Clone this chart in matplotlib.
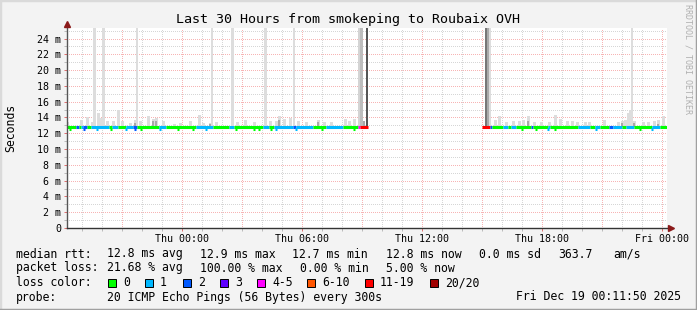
import matplotlib
matplotlib.use('Agg')
import matplotlib.pyplot as plt
from matplotlib.lines import Line2D
from matplotlib.patches import Rectangle

# x values are hours relative to Thu 00:00, y values in milliseconds
title = 'Last 30 Hours from smokeping to Roubaix OVH'
x_start, x_end = -5.75, 24.25
y_max = 25.33
x_tick_hours = [0, 6, 12, 18, 24]
x_tick_labels = ['Thu 00:00', 'Thu 06:00', 'Thu 12:00', 'Thu 18:00', 'Fri 00:00']
y_tick_ms = [0, 2, 4, 6, 8, 10, 12, 14, 16, 18, 20, 22, 24]

median_ms = 12.8
# (start hour, end hour, lost pings out of 20)
loss_segments = [
    (-5.75, -5.30, 0), (-5.30, -5.15, 2), (-5.15, -5.05, 0), (-5.05, -4.95, 1),
    (-4.95, -4.75, 2), (-4.75, -4.55, 0), (-4.55, -3.65, 1), (-3.65, -3.50, 0),
    (-3.50, -3.20, 1), (-3.20, -2.80, 0), (-2.80, -2.45, 1), (-2.45, -2.25, 2),
    (-2.25, -1.15, 0), (-1.15, -0.80, 1), (-0.80, 0.70, 0), (0.70, 1.55, 1),
    (1.55, 2.35, 0), (2.35, 2.60, 1), (2.60, 4.05, 0), (4.05, 4.35, 1),
    (4.35, 4.60, 0), (4.60, 5.55, 1), (5.55, 5.70, 2), (5.70, 6.55, 1),
    (6.55, 7.20, 0), (7.20, 8.05, 1), (8.05, 8.80, 0), (8.80, 8.90, 4),
    (8.90, 9.30, 11),
    (15.00, 15.40, 11), (15.40, 15.50, 2), (15.50, 16.05, 0), (16.05, 16.30, 1),
    (16.30, 16.45, 0), (16.45, 16.70, 1), (16.70, 17.45, 0), (17.45, 17.55, 2),
    (17.55, 18.30, 0), (18.30, 18.40, 1), (18.40, 19.80, 0), (19.80, 20.40, 1),
    (20.40, 20.65, 0), (20.65, 20.90, 1), (20.90, 21.35, 0), (21.35, 21.55, 2),
    (21.55, 22.00, 1), (22.00, 22.20, 0), (22.20, 22.60, 1), (22.60, 23.50, 0),
    (23.50, 23.90, 1), (23.90, 24.25, 0),
]
# samples where the median dropped a little
dip_hours = [-5.6, -4.9, -4.25, -3.55, -2.8, -2.35, -2.05, -1.1, -0.2, 0.55,
             1.2, 2.7, 3.6, 3.85, 4.45, 4.7, 5.7, 7.0, 8.6, 17.0, 17.7, 18.3,
             18.65, 20.7, 22.9, 23.5]
dip_ms = 12.6

# smoke: highest ping per sample (light) and inner band (darker)
smoke_hours = [-5.75, -5.05, -4.75, -4.5, -4.2, -4.05, -3.75, -3.45, -3.2, -3.0,
               -2.6, -2.35, -2.1, -1.7, -1.45, -1.3, -0.95, -0.4, -0.1, 0.4,
               0.85, 1.05, 1.4, 1.7, 2.75, 3.15, 3.6, 4.4, 4.7, 4.85,
               5.1, 5.4, 5.8, 6.2, 6.8, 7.1, 7.45, 8.15, 8.35, 8.6,
               15.65, 15.85, 16.2, 16.55, 16.85, 17.05, 17.3, 17.6, 17.95, 18.35,
               18.65, 18.9, 19.25, 19.5, 19.75, 20.15, 20.35, 21.1, 21.8, 22.0,
               22.15, 22.3, 22.4, 22.6, 23.05, 23.3, 23.6, 23.8, 24.05]
smoke_top = [13.4, 13.7, 14.0, 13.4, 14.6, 13.9, 13.5, 13.5, 14.9, 13.5,
             13.3, 13.7, 13.5, 14.2, 13.8, 13.9, 13.5, 13.2, 13.3, 13.5,
             14.3, 13.3, 13.3, 13.4, 13.4, 13.7, 13.4, 13.5, 13.6, 14.2,
             13.8, 13.9, 13.5, 13.4, 13.7, 13.4, 13.4, 13.8, 13.6, 13.8,
             13.7, 14.2, 13.4, 13.5, 13.5, 13.7, 14.2, 13.4, 13.4, 13.4,
             14.3, 13.8, 13.5, 13.6, 13.4, 13.4, 13.4, 13.7, 13.4, 13.6,
             13.7, 14.6, 14.9, 13.5, 13.4, 13.4, 13.5, 13.7, 14.2]
dark_hours = [-2.35, -1.45, -1.3, 1.4, 4.15, 4.85, 6.8, 9.1, 17.3, 22.0, 22.6, 23.8]
dark_top = [13.3, 13.5, 13.6, 13.2, 13.4, 13.7, 13.4, 13.5, 13.6, 13.3, 13.3, 13.2]

# samples whose slowest pings went off the chart
spike_hours = [-4.375, -3.925, -2.25, 1.5, 2.525, 4.175, 5.6, 8.85, 8.97, 9.24,
               15.19, 15.29, 15.39, 22.5]
spike_top = [40, 40, 40, 40, 40, 40, 40, 40, 40, 40, 40, 40, 40, 40]
spike_shade = ['#dddddd', '#dddddd', '#dddddd', '#dddddd', '#dddddd', '#dddddd',
               '#dddddd', '#d4d4d4', '#bdbdbd', '#555555', '#777777', '#aaaaaa',
               '#dddddd', '#dddddd']

loss_bins = [(0, '0', '#00ff00'), (1, '1', '#00b8ff'), (2, '2', '#0059ff'),
             (3, '3', '#5e00ff'), (5, '4-5', '#ff00ff'), (10, '6-10', '#ff5500'),
             (19, '11-19', '#ff0000'), (20, '20/20', '#a10000')]

stat_rows = [
    ('median rtt:', [('12.8 ms avg', 107), ('12.9 ms max', 200), ('12.7 ms min', 292),
                     ('12.8 ms now', 386), ('0.0 ms sd', 479), ('363.7', 558),
                     ('am/s', 613)]),
    ('packet loss:', [('21.68 % avg', 107), ('100.00 % max', 200), ('0.00 % min', 300),
                      ('5.00 % now', 386)]),
]
probe_text = '20 ICMP Echo Pings (56 Bytes) every 300s'
stamp_text = 'Fri Dec 19 00:11:50 2025'

W, H = 697, 310
MONO = 'DejaVu Sans Mono'
plt.rcParams['font.family'] = MONO


def fx(x):
    return x / W


def fy(y):
    return 1 - y / H


def loss_color(n):
    for top, _, c in loss_bins:
        if n <= top:
            return c
    return loss_bins[-1][2]


fig = plt.figure(figsize=(W / 100, H / 100), dpi=100, facecolor='#f3f3f3')
ax = fig.add_axes([fx(67), fy(228), 600 / W, 200 / H])
ax.set_facecolor('white')
ax.set_xlim(x_start, x_end)
ax.set_ylim(0, y_max)

# grid, dotted 1px on / 2px off like rrdtool
dots = (0, (1, 2))
for h in range(-5, 25):
    c = '#f7b4b4' if h % 3 == 0 else '#d6d6d6'
    ax.axvline(h, color=c, lw=0.72, ls=dots, zorder=1, antialiased=False)
for v in range(1, 26):
    c = '#f7b4b4' if v % 2 == 0 else '#d6d6d6'
    ax.axhline(v, color=c, lw=0.72, ls=dots, zorder=1, antialiased=False)

# smoke
base = median_ms
ax.bar(smoke_hours, [t - base for t in smoke_top], bottom=base, width=0.15,
       color='#dddddd', linewidth=0, zorder=2)
ax.bar(dark_hours, [t - base for t in dark_top], bottom=base, width=0.12,
       color='#a8a8a8', linewidth=0, zorder=3)
ax.bar(spike_hours, [t - base for t in spike_top], bottom=base, width=0.11,
       color=spike_shade, linewidth=0, zorder=3)

# median line coloured by loss
for s, e, n in loss_segments:
    ax.hlines(median_ms, s, e, colors=loss_color(n), lw=2.2, zorder=5,
              capstyle='butt')
for d in dip_hours:
    n = next(seg[2] for seg in loss_segments if seg[0] <= d < seg[1])
    ax.hlines(dip_ms, d - 0.05, d + 0.05, colors=loss_color(n), lw=2.2,
              zorder=5, capstyle='butt')

# axes
for sp in ax.spines.values():
    sp.set_visible(False)
ax.plot([0, 0], [0, 1.01], transform=ax.transAxes, color='#555555', lw=1,
        clip_on=False, zorder=6)
ax.plot([0, 1.005], [0, 0], transform=ax.transAxes, color='#333333', lw=1,
        clip_on=False, zorder=6)
ax.plot([0], [1.02], transform=ax.transAxes, marker='^', ms=5, color='#8b1a1a',
        clip_on=False, zorder=7)
ax.plot([1.007], [0], transform=ax.transAxes, marker='>', ms=5, color='#8b1a1a',
        clip_on=False, zorder=7)

ax.set_xticks(x_tick_hours)
ax.set_xticklabels(x_tick_labels)
ax.set_xticks(range(-5, 25), minor=True)
ax.set_yticks(y_tick_ms)
ax.set_yticklabels(['0'] + ['%d m' % v for v in y_tick_ms[1:]])
ax.set_yticks(range(1, 26), minor=True)
ax.tick_params(axis='both', which='major', length=2, width=0.72, color='#e07070',
               labelsize=7.2, labelcolor='#000000')
ax.tick_params(axis='both', which='minor', length=2, width=0.72, color='#bbbbbb')
ax.tick_params(axis='x', which='major', pad=2)
ax.tick_params(axis='y', which='major', pad=2.2)

# texts
fig.text(fx(348.5), fy(19), title, ha='center', va='center', fontsize=9.6)
fig.text(fx(11), fy(128), 'Seconds', rotation=90, ha='center', va='center',
         fontsize=8.3)
fig.text(fx(688), fy(4), 'RRDTOOL / TOBI OETIKER', rotation=270, ha='center',
         va='top', fontsize=6, color='#b0b0b0')

legend_fs = 8.3
row_y = [254, 268, 283, 297]
for (label, parts), y in zip(stat_rows, row_y):
    fig.text(fx(16), fy(y), label, ha='left', va='center', fontsize=legend_fs)
    for txt, x in parts:
        fig.text(fx(x), fy(y), txt, ha='left', va='center', fontsize=legend_fs)

fig.text(fx(16), fy(row_y[2]), 'loss color:', ha='left', va='center',
         fontsize=legend_fs)
box_x = [108, 145, 183, 220, 257, 307, 365, 430]
for (_, name, c), bx in zip(loss_bins, box_x):
    fig.patches.append(Rectangle((fx(bx), fy(row_y[2] + 4)), 8 / W, 8 / H,
                                 transform=fig.transFigure, facecolor=c,
                                 edgecolor='black', lw=0.7))
    fig.text(fx(bx + 15), fy(row_y[2]), name, ha='left', va='center',
             fontsize=legend_fs)

fig.text(fx(16), fy(row_y[3]), 'probe:', ha='left', va='center', fontsize=legend_fs)
fig.text(fx(107), fy(row_y[3]), probe_text, ha='left', va='center',
         fontsize=legend_fs)
fig.text(fx(681), fy(row_y[3]), stamp_text, ha='right', va='center',
         fontsize=legend_fs)

# frame
fig.lines.append(Line2D([0, 0, 1], [0, 1, 1], transform=fig.transFigure,
                        color='#dadada', lw=2.5))
fig.lines.append(Line2D([0, 1, 1], [0, 0, 1], transform=fig.transFigure,
                        color='#a0a0a0', lw=2.5))

fig.savefig('out.png', dpi=100, facecolor=fig.get_facecolor())
